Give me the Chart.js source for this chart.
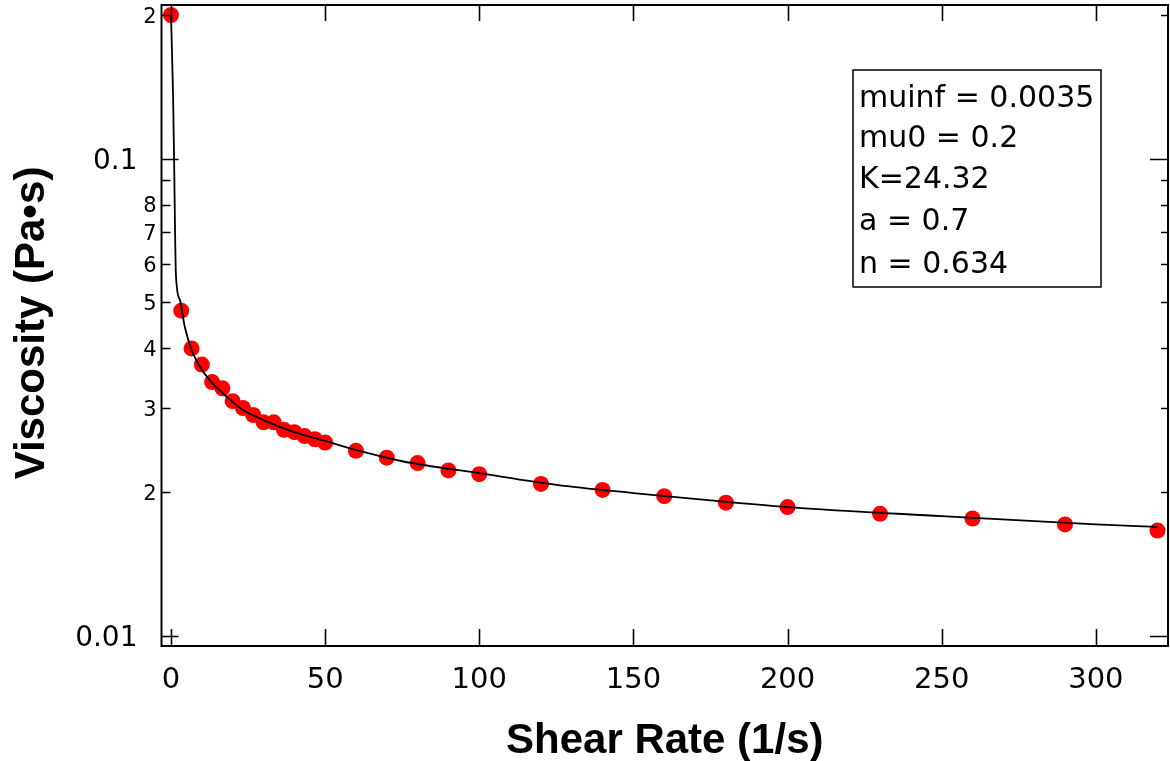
<!DOCTYPE html>
<html>
<head>
<meta charset="utf-8">
<script src="https://cdn.jsdelivr.net/npm/chart.js@4.4.1/dist/chart.umd.min.js"></script>
<style>
  body { margin: 0; background: #fff; }
  canvas { display: block; }
</style>
</head>
<body>
<canvas id="chart" width="1170" height="761"></canvas>
<script>
// measured points (shear rate 1/s, viscosity Pa.s)
const shearRate = [0, 3.33, 6.67, 10, 13.33, 16.67, 20, 23.33, 26.67, 30, 33.33, 36.67, 40, 43.33, 46.67, 50,
  60, 70, 80, 90, 100, 120, 140, 160, 180, 200, 230, 260, 290, 320];
const viscosity = [0.2, 0.048, 0.040, 0.037, 0.034, 0.033, 0.031, 0.030, 0.029, 0.028, 0.028, 0.027, 0.0267, 0.0262, 0.0258, 0.0254,
  0.0244, 0.0236, 0.0230, 0.0222, 0.0218, 0.0208, 0.0202, 0.0196, 0.0190, 0.0186, 0.0180, 0.0176, 0.0171, 0.0166];

// fitted curve
const fitRate = [0, 0.7, 1.0, 1.6, 2.9, 4.5, 6.7, 9.4, 12.6, 18, 23.3, 30, 40, 50, 60, 75, 100, 125, 150, 175, 200, 250, 300, 320];
const fitVisc = [0.2, 0.133, 0.1, 0.057, 0.0505, 0.0443, 0.0397, 0.0366, 0.0343, 0.0317, 0.0297, 0.0283, 0.0267, 0.0256,
  0.0245, 0.0232, 0.0219, 0.0207, 0.0199, 0.0192, 0.0186, 0.0178, 0.0171, 0.0169];

const xTicks = [0, 50, 100, 150, 200, 250, 300];
const yTicks = [0.01, 0.02, 0.03, 0.04, 0.05, 0.06, 0.07, 0.08, 0.09, 0.1, 0.2];
const yTickLabels = ["0.01", "2", "3", "4", "5", "6", "7", "8", "", "0.1", "2"];
const yMajor = [0.01, 0.1];

const fitParams = ["muinf = 0.0035", "mu0 = 0.2", "K=24.32", "a = 0.7", "n = 0.634"];

const FONT = "'DejaVu Sans', 'Verdana', sans-serif";
const TITLE_FONT = "'Liberation Sans', Arial, sans-serif";

const framePlugin = {
  id: "frame",
  afterDraw(chart) {
    const ctx = chart.ctx;
    const a = chart.chartArea;
    const xs = chart.scales.x, ys = chart.scales.y;
    ctx.save();
    ctx.strokeStyle = "#000";
    ctx.fillStyle = "#000";

    // frame
    ctx.lineWidth = 2;
    ctx.strokeRect(a.left, a.top, a.right - a.left, a.bottom - a.top);

    // x ticks, bottom and top, pointing in
    ctx.lineWidth = 1.6;
    ctx.beginPath();
    xTicks.forEach(v => {
      const px = Math.round(xs.getPixelForValue(v)) + 0.5;
      ctx.moveTo(px, a.bottom); ctx.lineTo(px, a.bottom - 17);
      ctx.moveTo(px, a.top); ctx.lineTo(px, a.top + 16);
    });
    // y ticks, left and right
    yTicks.forEach(v => {
      const py = Math.round(ys.getPixelForValue(v)) + 0.5;
      const major = yMajor.includes(v);
      ctx.moveTo(a.left, py); ctx.lineTo(a.left + (major ? 17 : 9), py);
      ctx.moveTo(a.right, py); ctx.lineTo(a.right - (major ? 18 : 7), py);
    });
    ctx.stroke();

    // x labels
    ctx.font = "29px " + FONT;
    ctx.textAlign = "center";
    ctx.textBaseline = "alphabetic";
    xTicks.forEach(v => {
      ctx.fillText(String(v), xs.getPixelForValue(v), 688);
    });

    // y labels
    ctx.textAlign = "right";
    yTicks.forEach((v, i) => {
      const py = ys.getPixelForValue(v);
      if (yMajor.includes(v)) {
        ctx.font = "28px " + FONT;
        ctx.fillText(yTickLabels[i], a.left - 24, py + 10);
      } else {
        ctx.font = "21px " + FONT;
        ctx.fillText(yTickLabels[i], a.left - 5, py + 7.5);
      }
    });

    // axis titles
    ctx.font = "bold 42px " + TITLE_FONT;
    ctx.textAlign = "center";
    ctx.fillText("Shear Rate (1/s)", (a.left + a.right) / 2, 753);
    ctx.save();
    ctx.translate(44, 323);
    ctx.rotate(-Math.PI / 2);
    ctx.fillText("Viscosity (Pa\u2022s)", 0, 0);
    ctx.restore();

    // parameter box
    ctx.fillStyle = "#fff";
    ctx.fillRect(853, 70, 248, 217);
    ctx.lineWidth = 1.5;
    ctx.strokeRect(853, 70, 248, 217);
    ctx.fillStyle = "#000";
    ctx.font = "30px " + FONT;
    ctx.textAlign = "left";
    const baselines = [107, 147, 188, 230, 273];
    fitParams.forEach((t, i) => ctx.fillText(t, 859, baselines[i]));

    ctx.restore();
  }
};

new Chart(document.getElementById("chart"), {
  type: "scatter",
  data: {
    datasets: [
      {
        type: "line",
        data: fitRate.map((x, i) => ({ x: x, y: fitVisc[i] })),
        borderColor: "#000",
        borderWidth: 1.8,
        pointRadius: 0,
        fill: false,
        cubicInterpolationMode: "monotone",
        order: 0
      },
      {
        data: shearRate.map((x, i) => ({ x: x, y: viscosity[i] })),
        backgroundColor: "#ff0000",
        borderColor: "#ff0000",
        borderWidth: 0,
        pointRadius: 8,
        order: 1
      }
    ]
  },
  options: {
    responsive: false,
    animation: false,
    clip: false,
    layout: { autoPadding: false, padding: { left: 161.5, top: 5, right: 2, bottom: 115 } },
    plugins: { legend: { display: false }, tooltip: { enabled: false } },
    scales: {
      x: { type: "linear", display: false, min: -3.08, max: 323.4 },
      y: { type: "logarithmic", display: false, min: 0.00951, max: 0.2099 }
    }
  },
  plugins: [framePlugin]
});
</script>
</body>
</html>
